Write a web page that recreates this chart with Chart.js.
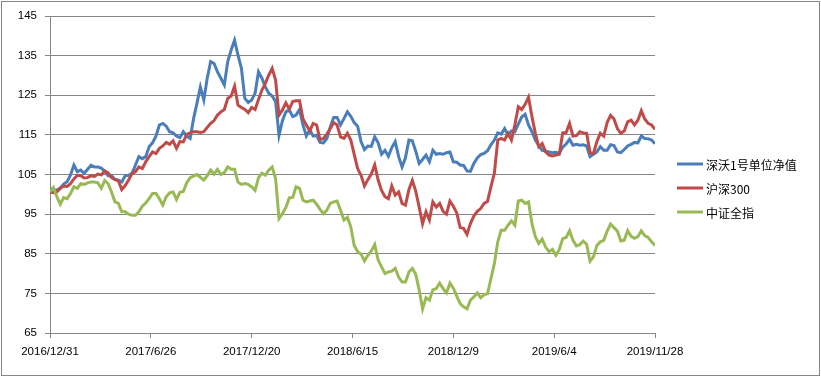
<!DOCTYPE html>
<html>
<head>
<meta charset="utf-8">
<script src="https://cdn.jsdelivr.net/npm/chart.js@4"></script>
<style>
  html, body { margin: 0; padding: 0; background: #fff; }
  #wrap { position: relative; width: 821px; height: 377px; }
</style>
</head>
<body>
<div id="wrap"><canvas id="chart" width="821" height="377"></canvas></div>
<script>
// sampled every 6 days starting 2016/12/31
const startDate = Date.UTC(2016, 11, 31);
const dayStep = 6;
const tickStepDays = 177;
const totalDays = 1062;

const seriesNames = ['深沃1号单位净值', '沪深300', '中证全指'];
const seriesColors = ['#4A7EBB', '#BE4B48', '#98B954'];

const shenwo = [
  101.4, 101.2, 101.0, 101.6, 102.6, 103.2, 104.9, 107.4, 105.7, 106.1,
  105.3, 106.3, 107.3, 106.9, 106.9, 106.6, 105.8, 104.7, 104.7, 103.8,
  103.6, 103.1, 104.7, 104.8, 105.3, 107.4, 109.5, 109.0, 109.5, 112.0,
  113.0, 114.7, 117.5, 117.9, 117.2, 115.8, 115.5, 114.7, 114.3, 115.8,
  114.7, 114.1, 119.1, 123.0, 127.1, 123.8, 129.3, 133.5, 133.0, 130.9,
  129.3, 127.6, 133.5, 136.4, 138.9, 135.1, 131.8, 124.2, 123.2, 123.8,
  125.5, 130.9, 129.3, 127.1, 125.5, 124.8, 123.4, 114.9, 118.6, 120.8,
  121.3, 119.6, 120.0, 121.4, 117.5, 114.7, 116.2, 114.7, 114.9, 113.1,
  113.0, 114.1, 117.0, 119.4, 119.4, 117.5, 119.1, 120.8, 119.7, 118.1,
  117.2, 113.3, 111.3, 112.2, 112.1, 114.5, 113.0, 110.1, 111.1, 109.6,
  111.8, 113.3, 109.5, 106.9, 109.2, 113.7, 113.5, 110.9, 107.8, 108.8,
  109.9, 108.2, 111.1, 110.1, 110.3, 110.1, 110.5, 110.7, 108.2, 108.1,
  107.4, 107.3, 105.9, 105.8, 107.8, 109.2, 110.0, 110.3, 111.0, 112.5,
  113.7, 115.5, 115.2, 116.6, 114.9, 116.0, 115.8, 117.7, 119.5, 120.2,
  117.5, 115.8, 113.7, 112.3, 111.1, 110.9, 110.7, 110.5, 110.6, 110.3,
  111.9, 112.7, 113.9, 112.4, 112.6, 112.4, 112.5, 112.2, 109.5, 110.1,
  110.7, 112.0, 111.1, 111.1, 112.5, 112.3, 110.7, 110.5, 111.3, 112.2,
  112.6, 113.1, 113.0, 114.7, 114.1, 114.0, 113.7, 112.8
];

const hs300 = [
  100.6, 100.4, 100.6, 101.5, 102.1, 102.0, 102.7, 103.9, 104.8, 104.7,
  104.1, 104.2, 104.7, 104.5, 105.1, 104.9, 105.9, 105.4, 104.2, 103.7,
  103.4, 101.2, 102.2, 103.6, 105.3, 105.7, 106.9, 106.5, 108.2, 109.5,
  110.7, 110.3, 111.6, 112.2, 113.1, 112.6, 113.5, 111.6, 113.3, 113.2,
  115.1, 115.5, 115.8, 115.8, 115.6, 115.8, 116.9, 117.9, 118.6, 120.0,
  120.8, 121.4, 124.2, 124.8, 127.3, 122.5, 121.9, 121.4, 120.6, 121.9,
  121.4, 123.9, 126.3, 128.0, 130.1, 131.8, 128.8, 120.0, 121.3, 123.1,
  121.5, 123.4, 123.6, 123.6, 119.1, 117.5, 116.0, 117.9, 117.5, 113.8,
  114.1, 115.2, 116.6, 118.1, 117.5, 114.5, 114.1, 115.4, 113.7, 110.1,
  106.5, 104.8, 102.1, 103.7, 105.1, 107.4, 103.6, 101.0, 99.4, 98.9,
  102.1, 99.8, 100.6, 97.7, 97.3, 101.2, 103.5, 100.8, 96.8, 92.6,
  95.6, 93.5, 98.1, 96.8, 97.7, 95.7, 95.0, 98.3, 97.0, 95.3,
  91.6, 91.4, 89.9, 92.6, 94.5, 95.7, 96.4, 97.7, 98.2, 101.9,
  105.3, 113.7, 114.1, 113.7, 115.4, 113.7, 117.5, 122.1, 121.4, 122.7,
  124.5, 119.6, 115.4, 112.0, 112.8, 110.7, 109.9, 109.7, 109.9, 110.1,
  115.5, 115.6, 117.9, 114.7, 114.8, 115.8, 115.5, 115.4, 110.5, 110.3,
  113.3, 115.4, 114.7, 118.1, 119.9, 119.0, 116.6, 115.4, 116.0, 118.3,
  118.7, 117.5, 118.7, 121.1, 119.0, 117.9, 117.5, 116.4
];

const zzqz = [
  100.6, 101.7, 99.4, 97.5, 99.2, 98.9, 100.2, 101.9, 101.5, 102.7,
  102.5, 102.9, 103.1, 103.1, 102.9, 101.5, 103.5, 102.7, 100.6, 98.1,
  97.7, 95.6, 95.6, 95.0, 94.7, 94.7, 95.6, 97.0, 97.8, 98.9,
  100.2, 100.2, 98.9, 97.3, 99.4, 100.4, 100.6, 98.7, 100.5, 100.7,
  102.9, 104.2, 104.6, 105.0, 104.3, 103.6, 104.7, 106.1, 105.1, 106.3,
  105.0, 105.5, 106.9, 106.3, 106.3, 103.1, 102.5, 102.7, 102.5, 101.9,
  101.0, 104.2, 105.3, 104.8, 106.1, 106.9, 104.0, 93.9, 95.1, 96.7,
  99.1, 99.2, 101.9, 101.5, 98.5, 98.1, 98.3, 98.5, 97.5, 96.2,
  95.1, 96.0, 97.7, 98.1, 98.3, 96.0, 93.5, 94.2, 91.8, 87.1,
  85.5, 84.9, 83.2, 84.6, 85.7, 87.3, 83.4, 81.7, 80.0, 80.4,
  80.6, 81.3, 79.1, 77.9, 77.9, 80.4, 81.3, 79.8, 75.9, 71.1,
  73.9, 73.3, 75.9, 76.2, 77.6, 76.2, 75.1, 77.6, 76.3, 74.3,
  72.4, 71.6, 71.1, 73.3, 74.1, 75.1, 73.9, 74.7, 74.9, 78.7,
  82.5, 88.0, 90.9, 90.9, 92.2, 93.3, 92.2, 98.3, 98.5, 97.7,
  98.1, 92.6, 89.3, 87.6, 88.7, 86.7, 85.5, 86.1, 84.6, 86.1,
  88.8, 89.1, 90.8, 88.4, 87.0, 87.3, 88.2, 87.4, 83.1, 84.2,
  87.1, 88.0, 88.4, 90.7, 92.5, 91.6, 90.7, 88.2, 88.4, 90.8,
  89.4, 88.9, 89.3, 90.8, 89.6, 89.1, 88.0, 87.1
];

const yMin = 65, yMax = 145, yStep = 10;

function fmtDay(d) {
  const t = new Date(startDate + d * 86400000);
  return t.getUTCFullYear() + '/' + (t.getUTCMonth() + 1) + '/' + t.getUTCDate();
}

function toPoints(values) {
  return values.map((v, i) => ({ x: i * dayStep, y: v }));
}

const allSeries = [shenwo, hs300, zzqz];
const datasets = allSeries.map((vals, k) => ({
  label: seriesNames[k],
  data: toPoints(vals),
  borderColor: seriesColors[k],
  backgroundColor: seriesColors[k],
  borderWidth: 3,
  pointRadius: 0,
  tension: 0,
  fill: false,
  // later series drawn on top, like the original
  order: allSeries.length - k
}));

const axisColor = '#868686';
const labelFont = { family: "'Liberation Sans', Arial, sans-serif", size: 11.5 };

// frame around the whole chart + legend at the right
const framePlugin = {
  id: 'frameAndLegend',
  afterDraw(chart) {
    const ctx = chart.ctx;
    ctx.save();
    ctx.strokeStyle = axisColor;
    ctx.lineWidth = 1;
    ctx.strokeRect(1.5, 1.5, 818, 374);

    const ys = [164, 188, 212];
    ctx.font = "12px 'Noto Sans CJK SC', sans-serif";
    ctx.textBaseline = 'middle';
    chart.data.datasets.forEach((ds, i) => {
      ctx.strokeStyle = ds.borderColor;
      ctx.lineWidth = 3;
      ctx.beginPath();
      ctx.moveTo(677, ys[i]);
      ctx.lineTo(703, ys[i]);
      ctx.stroke();
      ctx.fillStyle = '#000';
      ctx.fillText(ds.label, 706, ys[i] + 1);
    });
    ctx.restore();
  }
};

new Chart(document.getElementById('chart'), {
  type: 'line',
  data: { datasets },
  plugins: [framePlugin],
  options: {
    responsive: false,
    animation: false,
    devicePixelRatio: 1,
    layout: { padding: { top: 16, right: 166, bottom: 0, left: 0 } },
    plugins: { legend: { display: false }, tooltip: { enabled: false } },
    scales: {
      x: {
        type: 'linear',
        min: 0,
        max: totalDays,
        afterFit: (s) => { s.height = 44; },
        afterBuildTicks: (s) => {
          const t = [];
          for (let d = 0; d <= totalDays; d += tickStepDays) t.push({ value: d });
          s.ticks = t;
        },
        ticks: {
          autoSkip: false,
          maxRotation: 0,
          padding: 7,
          color: '#000',
          font: labelFont,
          callback: (v) => fmtDay(v)
        },
        grid: { drawOnChartArea: false, drawTicks: true, tickLength: 5, color: axisColor },
        border: { color: axisColor, width: 1 }
      },
      y: {
        min: yMin,
        max: yMax,
        afterFit: (s) => { s.width = 50; },
        ticks: { stepSize: yStep, padding: 8, color: '#000', font: labelFont },
        grid: { color: axisColor, lineWidth: 1, tickLength: 5 },
        border: { color: axisColor, width: 1 }
      }
    }
  }
});
</script>
</body>
</html>
